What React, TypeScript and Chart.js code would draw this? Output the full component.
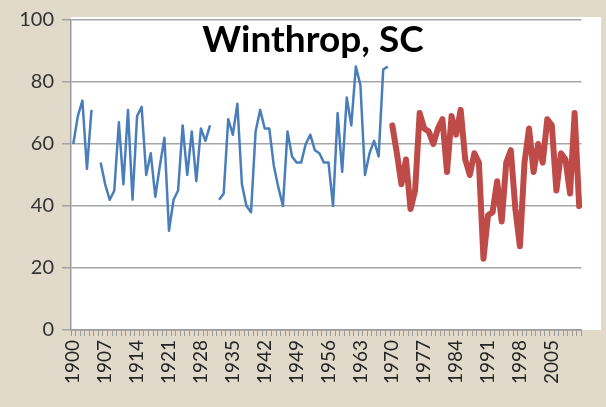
import React, { useEffect, useRef } from "react";
import { Chart, registerables } from "chart.js";

Chart.register(...registerables);

const firstYear = 1900;
const lastYear = 2011;

const years: string[] = Array.from({ length: lastYear - firstYear + 1 }, (_, i) => String(firstYear + i));

const xTickLabels = ["1900", "1907", "1914", "1921", "1928", "1935", "1942", "1949", "1956", "1963", "1970", "1977", "1984", "1991", "1998", "2005"];
const yTicks = [0, 20, 40, 60, 80, 100];

// 1900-1969 (null = missing year)
const earlyValues: (number | null)[] = [
  60, 69, 74, 52, 71, null, 54, 47, 42, 45,
  67, 47, 71, 42, 69, 72, 50, 57, 43, 53,
  62, 32, 42, 45, 66, 50, 64, 48, 65, 61,
  66, null, 42, 44, 68, 63, 73, 47, 40, 38,
  64, 71, 65, 65, 53, 46, 40, 64, 56, 54,
  54, 60, 63, 58, 57, 54, 54, 40, 70, 51,
  75, 66, 85, 79, 50, 57, 61, 56, 84, 85,
];

// 1970-2011
const recentValues: number[] = [
  66, 57, 47, 55, 39, 45, 70, 65, 64, 60,
  65, 68, 51, 69, 63, 71, 55, 50, 57, 54,
  23, 37, 38, 48, 35, 54, 58, 39, 27, 54,
  65, 51, 60, 54, 68, 66, 45, 57, 55, 44,
  70, 40,
];

const titleText = "Winthrop, SC";

export default function App() {
  const ref = useRef<HTMLCanvasElement | null>(null);

  useEffect(() => {
    if (!ref.current) return;
    const blue = years.map((_, i) => (i < earlyValues.length ? earlyValues[i] : null));
    const red = years.map((_, i) => {
      const j = i - earlyValues.length;
      return j >= 0 && j < recentValues.length ? recentValues[j] : null;
    });

    const titlePlugin = {
      id: "overlayTitle",
      afterDatasetsDraw(chart: any) {
        const ctx = chart.ctx;
        ctx.save();
        ctx.font = "bold 37px Lato";
        ctx.fillStyle = "#000";
        ctx.textAlign = "center";
        ctx.textBaseline = "alphabetic";
        ctx.fillText(titleText, 313, 52);
        ctx.restore();
      },
    };

    const chart = new Chart(ref.current, {
      type: "line",
      data: {
        labels: years,
        datasets: [
          {
            data: blue,
            borderColor: "#4a7ebb",
            borderWidth: 2.5,
            pointRadius: 0,
            tension: 0,
            spanGaps: false,
            borderJoinStyle: "round",
          },
          {
            data: red,
            borderColor: "#be4b48",
            borderWidth: 6,
            pointRadius: 0,
            tension: 0,
            spanGaps: false,
            borderJoinStyle: "round",
            borderCapStyle: "round",
          },
        ],
      },
      options: {
        responsive: false,
        animation: false,
        layout: { padding: { left: 0, right: 5, top: 17, bottom: 0 } },
        plugins: { legend: { display: false }, tooltip: { enabled: false } },
        scales: {
          x: {
            type: "category",
            offset: true,
            grid: {
              offset: true,
              drawOnChartArea: false,
              drawTicks: true,
              tickLength: 6,
              color: "#9a9a9a",
              lineWidth: 1,
            },
            border: { display: true, color: "#9a9a9a", width: 1.5 },
            ticks: {
              autoSkip: false,
              maxRotation: 90,
              minRotation: 90,
              padding: 4,
              color: "#262626",
              font: { family: "Lato", size: 19 },
              callback: (_v: any, idx: number) => (xTickLabels.includes(years[idx]) ? years[idx] : ""),
            },
            afterFit: (scale: any) => {
              scale.height = 77;
            },
          },
          y: {
            min: yTicks[0],
            max: yTicks[yTicks.length - 1],
            afterBuildTicks: (scale: any) => {
              scale.ticks = yTicks.map((v) => ({ value: v }));
            },
            grid: {
              color: "#a6a6a6",
              lineWidth: 1.5,
              drawTicks: true,
              tickLength: 9,
            },
            border: { display: true, color: "#9a9a9a", width: 1.5 },
            ticks: {
              padding: 8,
              color: "#333333",
              font: { family: "Lato", size: 20 },
            },
            afterFit: (scale: any) => {
              scale.width = 71;
            },
          },
        },
      },
      plugins: [titlePlugin],
    } as any);
    return () => chart.destroy();
  }, []);

  return (
    <div
      style={{
        position: "absolute",
        left: 0,
        top: 0,
        width: 606,
        height: 407,
        background: "#e1d9c9",
      }}
    >
      <div style={{ position: "absolute", left: 71, top: 17, width: 530, height: 313, background: "#ffffff" }} />
      <canvas ref={ref} width={606} height={407} style={{ position: "absolute", left: 0, top: 0, width: 606, height: 407 }} />
    </div>
  );
}
